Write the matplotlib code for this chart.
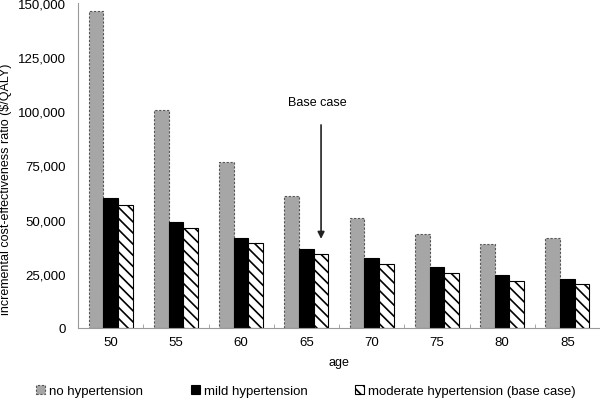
import numpy as np
import matplotlib
matplotlib.use("Agg")
import matplotlib.pyplot as plt
from matplotlib.ticker import FuncFormatter

plt.rcParams['font.family'] = ['Liberation Sans', 'DejaVu Sans']
plt.rcParams['hatch.linewidth'] = 1.2

ages = ['50', '55', '60', '65', '70', '75', '80', '85']
no_htn = [146300, 100500, 76400, 61100, 50900, 43500, 38900, 41700]
mild_htn = [60000, 49000, 41500, 36600, 32100, 28100, 24200, 22500]
moderate_htn = [56900, 46300, 39000, 33900, 29300, 25300, 21400, 20400]

fig = plt.figure(figsize=(6, 4.1), dpi=100)
ax = fig.add_axes([0.13, 0.198, 0.87, 0.792])

x = np.arange(len(ages))
w = 0.225
ax.bar(x - w, no_htn, w, color='#a6a6a6', edgecolor='#555555', linestyle=(0, (2, 1.5)),
       linewidth=0.8, label='no hypertension')
ax.bar(x, mild_htn, w, color='black', edgecolor='black', linewidth=0.8,
       label='mild hypertension')
ax.bar(x + w, moderate_htn, w, color='white', edgecolor='black', hatch='\\\\\\',
       linewidth=0.8, label='moderate hypertension (base case)')

ax.set_xlim(-0.5, len(ages) - 0.5)
ax.set_ylim(0, 150000)
ax.set_yticks(np.arange(0, 150001, 25000))
ax.yaxis.set_major_formatter(FuncFormatter(lambda v, p: f'{int(v):,}'))
ax.set_xticks(x)
ax.set_xticklabels(ages)
ax.set_xticks(np.arange(-0.5, len(ages)), minor=True)
ax.tick_params(axis='x', which='major', length=0, labelsize=9.5, pad=6)
ax.tick_params(axis='x', which='minor', direction='in', length=3, color='#999999')
ax.tick_params(axis='y', length=0, labelsize=9.5, pad=9)

for s in ['top', 'right']:
    ax.spines[s].set_visible(False)
ax.spines['left'].set_color('#999999')
ax.spines['bottom'].set_color('#999999')

ax.set_xlabel('age', fontsize=9, labelpad=6)
ax.set_ylabel('incremental cost-effectiveness ratio ($/QALY)', fontsize=9)
ax.yaxis.set_label_coords(-0.126, 0.43)

ax.annotate('', xy=(3 + w, 39800), xytext=(3 + w, 95000),
            arrowprops=dict(arrowstyle='-|>', color='#222222', lw=1.2, mutation_scale=10))
ax.text(3 + w - 0.05, 104500, 'Base case', ha='center', va='center', fontsize=9)

fig.legend(loc='lower center', bbox_to_anchor=(0.51, 0.0), ncol=3, frameon=False,
           fontsize=9.5, handlelength=0.7, handleheight=0.7, handletextpad=0.3,
           columnspacing=3.6)

fig.savefig('out.png', dpi=100)
